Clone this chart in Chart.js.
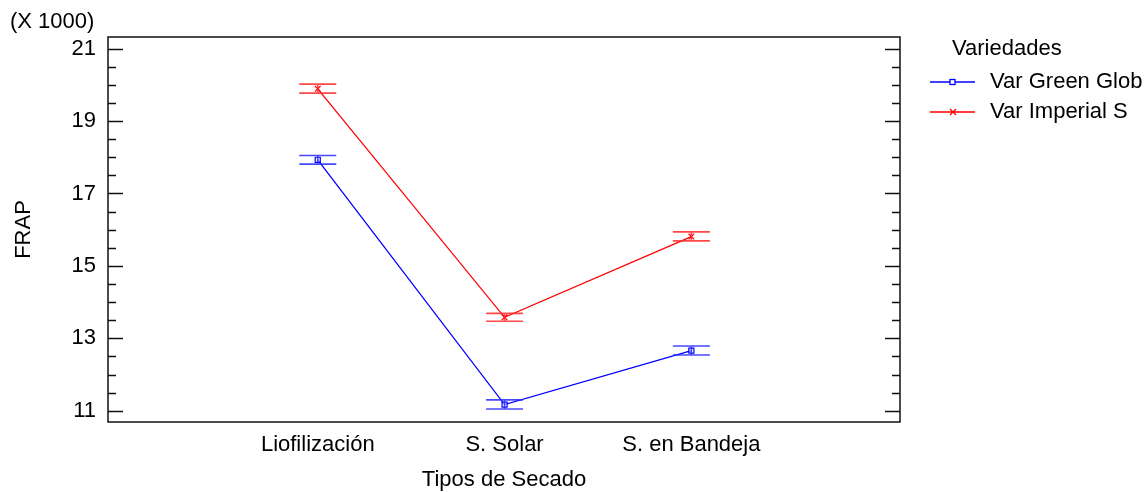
<!DOCTYPE html>
<html>
<head>
<meta charset="utf-8">
<script src="https://cdn.jsdelivr.net/npm/chart.js@4/dist/chart.umd.min.js"></script>
<style>
  html, body { margin: 0; padding: 0; background: #fff; }
  #wrap { width: 1144px; height: 492px; }
</style>
</head>
<body>
<div id="wrap"><canvas id="chart" width="1144" height="492"></canvas></div>
<script>
// valores en miles (X 1000)
var categorias = ['Liofilización', 'S. Solar', 'S. en Bandeja'];
var series = ['Var Green Glob', 'Var Imperial S'];
var greenMedia = [17.93, 11.17, 12.66];
var greenInf = [17.81, 11.05, 12.54];
var greenSup = [18.05, 11.30, 12.79];
var imperialMedia = [19.89, 13.58, 15.81];
var imperialInf = [19.77, 13.47, 15.69];
var imperialSup = [20.02, 13.69, 15.94];
var yTicks = [11, 13, 15, 17, 19, 21];

var FONT = 'Liberation Sans, Arial, sans-serif';
var AZUL = '#0000ff';
var ROJO = '#ff0000';

function puntos(vals) {
  return vals.map(function (v, i) { return { x: i + 1, y: v }; });
}

// barras de intervalo, marco con ticks hacia dentro, leyenda y "(X 1000)"
var extras = {
  id: 'extras',
  afterDatasetsDraw: function (chart) {
    var ctx = chart.ctx;
    var xs = chart.scales.x, ys = chart.scales.y;
    var bandas = [
      { inf: greenInf, sup: greenSup, color: 'rgba(40,40,255,0.85)' },
      { inf: imperialInf, sup: imperialSup, color: 'rgba(255,40,40,0.85)' }
    ];
    ctx.save();
    ctx.lineWidth = 1.6;
    bandas.forEach(function (b) {
      ctx.strokeStyle = b.color;
      b.inf.forEach(function (lo, i) {
        var px = xs.getPixelForValue(i + 1);
        var y1 = ys.getPixelForValue(lo), y2 = ys.getPixelForValue(b.sup[i]);
        ctx.beginPath();
        ctx.moveTo(px - 18.5, y1); ctx.lineTo(px + 18.5, y1);
        ctx.moveTo(px - 18.5, y2); ctx.lineTo(px + 18.5, y2);
        ctx.moveTo(px, y1); ctx.lineTo(px, y2);
        ctx.stroke();
      });
    });
    ctx.restore();
  },
  afterDraw: function (chart) {
    var ctx = chart.ctx;
    var a = chart.chartArea;
    var ys = chart.scales.y;
    ctx.save();
    ctx.strokeStyle = '#111';
    ctx.lineWidth = 1.5;
    ctx.strokeRect(a.left, a.top, a.right - a.left, a.bottom - a.top);
    ctx.lineWidth = 1.5;
    for (var v = 11; v <= 21.001; v += 0.5) {
      var py = Math.round(ys.getPixelForValue(v)) + 0.5;
      var len = (Math.abs(v - Math.round(v)) < 0.01 && Math.round(v) % 2 === 1) ? 15 : 8;
      ctx.beginPath();
      ctx.moveTo(a.left, py); ctx.lineTo(a.left + len, py);
      ctx.moveTo(a.right, py); ctx.lineTo(a.right - len, py);
      ctx.stroke();
    }

    ctx.fillStyle = '#000';
    ctx.font = '22px ' + FONT;
    ctx.textBaseline = 'middle';
    ctx.textAlign = 'left';
    ctx.fillText('(X 1000)', 10, 22);

    // leyenda
    ctx.fillText('Variedades', 952, 49);
    var filas = [
      { txt: series[0], color: AZUL, y: 82, marca: 'rect' },
      { txt: series[1], color: ROJO, y: 112, marca: 'x' }
    ];
    filas.forEach(function (f) {
      ctx.strokeStyle = f.color;
      ctx.lineWidth = 1.3;
      ctx.beginPath();
      ctx.moveTo(930, f.y); ctx.lineTo(975, f.y);
      ctx.stroke();
      if (f.marca === 'rect') {
        ctx.fillStyle = '#fff';
        ctx.fillRect(950, f.y - 2.5, 5, 5);
        ctx.strokeRect(950, f.y - 2.5, 5, 5);
      } else {
        ctx.beginPath();
        ctx.moveTo(950, f.y - 3); ctx.lineTo(956, f.y + 3);
        ctx.moveTo(956, f.y - 3); ctx.lineTo(950, f.y + 3);
        ctx.stroke();
      }
      ctx.fillStyle = '#000';
      ctx.fillText(f.txt, 990, f.y);
    });
    ctx.restore();
  }
};

new Chart(document.getElementById('chart'), {
  type: 'line',
  data: {
    datasets: [
      {
        label: series[0],
        data: puntos(greenMedia),
        borderColor: AZUL,
        backgroundColor: '#fff',
        borderWidth: 1.3,
        pointStyle: 'rect',
        pointRadius: 3.6,
        pointBorderWidth: 1.2,
        pointBorderColor: AZUL,
        pointBackgroundColor: 'rgba(255,255,255,0.6)',
        tension: 0
      },
      {
        label: series[1],
        data: puntos(imperialMedia),
        borderColor: ROJO,
        backgroundColor: ROJO,
        borderWidth: 1.3,
        pointStyle: 'crossRot',
        pointRadius: 4,
        pointBorderWidth: 1.2,
        pointBorderColor: ROJO,
        tension: 0
      }
    ]
  },
  options: {
    responsive: false,
    animation: false,
    layout: { padding: { top: 37, right: 244, left: 0, bottom: 0 } },
    plugins: {
      legend: { display: false },
      tooltip: { enabled: false }
    },
    scales: {
      x: {
        type: 'linear',
        min: -0.123,
        max: 4.117,
        grid: { display: false, drawTicks: false },
        border: { display: false },
        afterBuildTicks: function (s) { s.ticks = [1, 2, 3].map(function (v) { return { value: v }; }); },
        afterFit: function (s) { s.height = 70; },
        ticks: {
          color: '#000',
          font: { family: FONT, size: 22 },
          padding: 10,
          maxRotation: 0,
          callback: function (v) { return categorias[v - 1]; }
        },
        title: {
          display: true,
          text: 'Tipos de Secado',
          color: '#000',
          font: { family: FONT, size: 22, lineHeight: 1.1 },
          padding: { top: 0, bottom: 0 }
        }
      },
      y: {
        min: 10.69,
        max: 21.32,
        grid: { display: false, drawTicks: false },
        border: { display: false },
        afterBuildTicks: function (s) { s.ticks = yTicks.map(function (v) { return { value: v }; }); },
        afterFit: function (s) { s.width = 108; },
        ticks: {
          color: '#000',
          font: { family: FONT, size: 22 },
          padding: 12,
          callback: function (v) { return String(v); }
        },
        title: {
          display: true,
          text: 'FRAP',
          color: '#000',
          font: { family: FONT, size: 22, lineHeight: 1.1 },
          padding: { top: 12, bottom: 0 }
        }
      }
    }
  },
  plugins: [extras]
});
</script>
</body>
</html>
